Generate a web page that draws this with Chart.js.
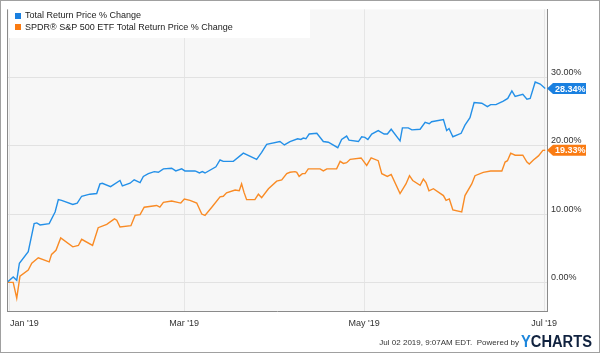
<!DOCTYPE html>
<html>
<head>
<meta charset="utf-8">
<script src="https://cdn.jsdelivr.net/npm/chart.js@4/dist/chart.umd.min.js"></script>
<style>
html,body{margin:0;padding:0;background:#fff;}
canvas{display:block;}
</style>
</head>
<body>
<canvas id="c" width="600" height="353"></canvas>
<script>
// ---- data (x = days since Dec 31 2018, y = % change) ----
const seriesNames = ["Total Return Price % Change", "SPDR\u00AE S&P 500 ETF Total Return Price % Change"];

const blueDays = [0,2.1,3.3,4.2,7.2,9.2,10.1,11.2,14.3,16.3,17.4,18.5,22.3,23.8,25.3,28.1,30.4,31.5,32.3,35.1,38.3,39.1,41.7,43.1,45.1,46.2,47.9,49.9,51.3,53.0,55.8,57.2,59.2,60.3,63.7,64.3,65.2,66.2,67.1,70.8,72.2,73.3,76.7,80.1,84.6,86.3,88.0,92.5,94.0,95.9,98.5,99.6,100.4,101.3,102.4,105.0,107.2,108.9,112.1,113.4,115.1,115.9,119.1,120.2,121.3,122.3,123.6,125.8,127.8,128.9,130.2,133.2,134.0,136.0,137.2,140.0,141.7,143.1,143.9,147.9,149.0,149.8,151.1,153.9,155.2,156.9,158.3,160.9,162.8,163.9,165.7,168.2,169.7,171.1,172.2,174.8,176.2,177.3,179.0,180.7,182.4];
const blueValues = [0,0.8,0.3,2.8,4.5,8.6,8.7,8.4,8.6,10.3,12.1,12.0,11.4,11.6,12.6,12.9,13.0,14.4,14.5,14.0,14.9,14.1,14.5,15.0,14.6,15.5,15.9,16.2,16.1,16.6,16.7,16.3,16.6,16.3,16.3,16.2,16.0,16.2,16.0,16.9,17.9,17.7,17.7,18.9,18.0,19.0,20.2,20.6,20.1,20.6,21.0,20.9,21.1,21.0,21.7,21.8,20.6,20.5,19.7,20.9,21.4,20.8,20.6,21.3,21.2,20.9,21.7,22.2,21.7,21.7,22.4,20.7,22.6,22.6,22.3,22.4,23.4,23.2,23.5,23.8,22.2,22.5,21.3,21.8,23.0,24.1,26.3,26.2,25.7,26.0,26.0,26.5,26.9,28.0,27.2,27.5,26.8,26.9,29.3,29.0,28.34];

const orangeDays = [0,2.1,3.3,4.4,7.2,8.4,10.6,14.3,15.1,16.6,18.2,22.3,24.2,25.3,29.0,30.9,33.8,36.4,37.2,38.3,42.0,43.4,45.1,46.5,50.7,51.8,53.0,55.8,58.9,60.1,62.0,64.3,66.0,67.1,69.4,72.2,73.3,74.4,77.3,78.7,79.5,80.3,81.2,84.0,85.2,86.3,88.6,91.4,93.1,94.8,95.9,97.6,98.2,99.0,100.1,101.0,102.1,106.1,107.2,108.4,111.7,112.9,114.0,115.1,116.3,120.0,121.9,123.4,125.8,127.0,128.9,130.2,133.2,135.2,136.4,137.5,140.0,141.1,142.0,143.0,144.5,147.9,148.8,149.9,151.1,154.1,155.2,157.5,158.6,161.4,163.9,167.7,168.8,169.6,170.7,172.2,174.8,176.2,177.0,178.4,180.1,181.6,182.4];
const orangeValues = [0,0,-2.3,0.9,1.8,2.8,3.6,3.0,4.1,4.7,6.5,5.2,5.4,6.3,5.4,8.0,8.5,9.3,9.1,8.1,8.3,9.8,9.9,11.0,11.25,11.0,11.7,11.9,11.6,12.2,12.0,11.6,10.0,9.8,11.0,12.5,12.6,13.1,13.5,13.4,14.4,13.2,12.1,12.1,12.9,12.4,13.7,14.8,15.0,15.9,16.1,16.2,16.1,15.5,15.9,15.9,16.6,16.6,16.3,16.6,16.6,17.7,17.4,17.5,18.0,18.2,17.1,18.2,17.8,15.9,15.5,15.8,13.0,14.4,15.6,14.9,14.2,15.1,14.6,13.4,13.7,12.7,12.0,12.2,10.6,10.3,12.7,14.4,15.6,16.1,16.3,16.3,17.6,17.8,18.9,18.6,18.6,17.6,17.3,17.9,18.5,19.3,19.33];

const xTickDays = [1, 60, 121, 182];
const xTickLabels = ["Jan '19", "Mar '19", "May '19", "Jul '19"];
const yTickValues = [0, 10, 20, 30];
const lastValues = [28.34, 19.33];
const footerText = "Jul 02 2019, 9:07AM EDT.  Powered by";
const brandText = "YCHARTS";

// ---- styling ----
const FONT = "'Liberation Sans', Arial, Helvetica, sans-serif";
const lineColors = ["#2490e8", "#f98b25"];
const tagColors = ["#1a80e0", "#fa7b12"];
const X_MAX = 183;

const bgPlugin = {
  id: 'bg',
  beforeDraw(chart) {
    const {ctx, chartArea: a} = chart;
    ctx.save();
    ctx.fillStyle = '#ffffff';
    ctx.fillRect(0, 0, chart.width, chart.height);
    ctx.fillStyle = '#f7f7f7';
    ctx.fillRect(a.left, a.top, a.right - a.left, a.bottom - a.top);
    ctx.restore();
  },
  afterDraw(chart) {
    const {ctx, chartArea: a} = chart;
    ctx.save();
    // left plot border
    ctx.strokeStyle = '#8a8a8a';
    ctx.lineWidth = 1;
    ctx.beginPath();
    ctx.moveTo(Math.round(a.left) + 0.5, a.top);
    ctx.lineTo(Math.round(a.left) + 0.5, a.bottom);
    ctx.stroke();
    // outer frame
    ctx.strokeStyle = '#a0a0a0';
    ctx.strokeRect(0.5, 0.5, chart.width - 1, chart.height - 1);

    // legend box
    ctx.fillStyle = '#ffffff';
    ctx.fillRect(9, 9, 301, 29);
    ctx.font = '9px ' + FONT;
    ctx.textBaseline = 'middle';
    ctx.textAlign = 'left';
    chart.data.datasets.forEach((ds, i) => {
      const cy = 15.5 + i * 11.5;
      ctx.fillStyle = tagColors[i];
      ctx.fillRect(15, Math.round(cy - 3), 6, 6);
      ctx.fillStyle = '#222';
      ctx.fillText(ds.label, 25, cy + 0.5);
    });

    // last-value tags
    const ys = chart.scales.y;
    ctx.font = 'bold 9px ' + FONT;
    lastValues.forEach((v, i) => {
      const y = ys.getPixelForValue(v);
      const x0 = a.right;
      ctx.fillStyle = tagColors[i];
      ctx.beginPath();
      ctx.moveTo(x0, y);
      ctx.lineTo(x0 + 6, y - 5.5);
      ctx.lineTo(x0 + 39, y - 5.5);
      ctx.lineTo(x0 + 39, y + 5.5);
      ctx.lineTo(x0 + 6, y + 5.5);
      ctx.closePath();
      ctx.fill();
      ctx.fillStyle = '#ffffff';
      ctx.fillText(v.toFixed(2) + '%', x0 + 8, y + 0.5);
    });

    // footer
    ctx.textBaseline = 'alphabetic';
    ctx.font = 'bold 16px ' + FONT;
    const bw = ctx.measureText(brandText).width;
    const brandLeft = 521, brandW = 71;
    ctx.save();
    ctx.translate(brandLeft, 347);
    ctx.scale(brandW / bw, 1);
    ctx.fillStyle = '#1c86dc';
    ctx.fillText(brandText[0], 0, 0);
    const yw = ctx.measureText(brandText[0]).width;
    ctx.fillStyle = '#10223f';
    ctx.fillText(brandText.slice(1), yw, 0);
    ctx.restore();
    ctx.font = '8px ' + FONT;
    ctx.fillStyle = '#333';
    ctx.textAlign = 'right';
    ctx.fillText(footerText, brandLeft - 2, 345);
    ctx.restore();
  }
};

new Chart(document.getElementById('c'), {
  type: 'line',
  data: {
    datasets: [
      { label: seriesNames[0], data: blueDays.map((d, i) => ({x: d, y: blueValues[i]})), borderColor: lineColors[0], backgroundColor: lineColors[0], borderWidth: 1.4, pointRadius: 0, tension: 0, fill: false },
      { label: seriesNames[1], data: orangeDays.map((d, i) => ({x: d, y: orangeValues[i]})), borderColor: lineColors[1], backgroundColor: lineColors[1], borderWidth: 1.4, pointRadius: 0, tension: 0, fill: false }
    ]
  },
  options: {
    responsive: false,
    animation: false,
    devicePixelRatio: 1,
    layout: { padding: { left: 7, top: 8, right: 0, bottom: 0 } },
    plugins: { legend: { display: false }, tooltip: { enabled: false } },
    scales: {
      x: {
        type: 'linear', min: 0, max: X_MAX,
        afterBuildTicks(s) { s.ticks = xTickDays.map(v => ({value: v})).concat([{value: X_MAX}]); },
        afterFit(s) { s.height = 42; },
        ticks: {
          autoSkip: false, maxRotation: 0, minRotation: 0, align: 'inner', padding: 7,
          color: '#333', font: { size: 9, family: FONT },
          callback(v) { const k = xTickDays.indexOf(v); return k >= 0 ? xTickLabels[k] : ''; }
        },
        grid: {
          drawTicks: false,
          color(ctx) { return ctx.tick && ctx.tick.value === X_MAX ? 'rgba(0,0,0,0)' : '#e6e6e6'; }
        },
        border: { display: true, color: '#8a8a8a' }
      },
      y: {
        type: 'linear', position: 'right', min: -4.18, max: 39.92,
        afterBuildTicks(s) { s.ticks = yTickValues.map(v => ({value: v})); },
        afterFit(s) { s.width = 53; },
        ticks: {
          padding: 4, labelOffset: -5, color: '#333', font: { size: 9, family: FONT },
          callback(v) { return Number(v).toFixed(2) + '%'; }
        },
        grid: { drawTicks: false, color: '#e2e2e2' },
        border: { display: true, color: '#8a8a8a' }
      }
    }
  },
  plugins: [bgPlugin]
});
</script>
</body>
</html>
